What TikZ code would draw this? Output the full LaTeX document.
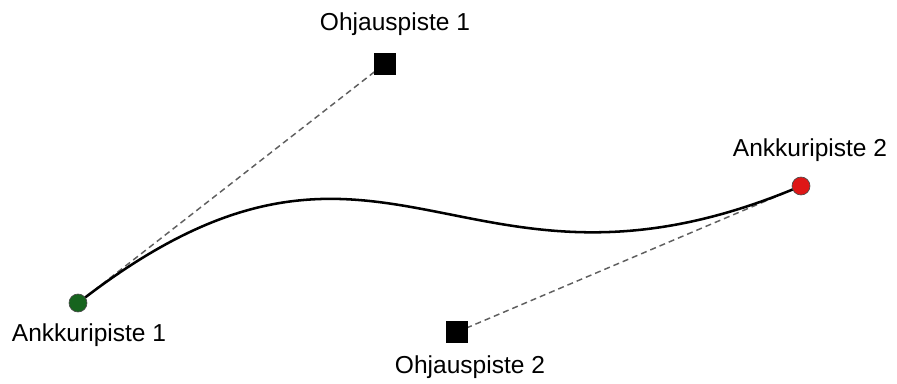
\documentclass[tikz,border=0pt]{standalone}
\usepackage{fontspec}
\setmainfont{Liberation Sans}
\definecolor{anchorgreen}{RGB}{22,100,30}
\definecolor{anchorred}{RGB}{222,22,22}
\definecolor{guidegray}{RGB}{95,95,95}
\begin{document}
\begin{tikzpicture}[x=0.75pt,y=-0.75pt,
  anchorpt/.style={circle,draw=black!70,line width=0.5pt,inner sep=0pt,minimum size=13.5pt},
  ctrlpt/.style={rectangle,fill=black,inner sep=0pt,minimum size=16.5pt},
  guide/.style={draw=guidegray,line width=1.1pt,dash pattern=on 4.5pt off 3pt},
  curve/.style={draw=black,line width=1.9pt},
  lbl/.style={anchor=base,inner sep=0pt,font=\fontsize{18.4pt}{22pt}\selectfont}]
  \useasboundingbox (0,0) rectangle (897,383);
  % points
  \coordinate (p1) at (78,303);
  \coordinate (p2) at (801,186);
  \coordinate (q1) at (384.5,64);
  \coordinate (q2) at (457,332);
  % guide lines and the Bezier curve
  \draw[guide] (p1) -- (q1);
  \draw[guide] (q2) -- (p2);
  \draw[curve] (p1) .. controls (q1) and (q2) .. (p2);
  % handles
  \node[anchorpt,fill=anchorgreen] (a1) at (p1) {};
  \node[anchorpt,fill=anchorred] (a2) at (p2) {};
  \node[ctrlpt] (c1) at (q1) {};
  \node[ctrlpt] (c2) at (q2) {};
  % labels
  \node[lbl] (l1) at (395,30) {Ohjauspiste 1};
  \node[lbl] (l2) at (810,156.5) {Ankkuripiste 2};
  \node[lbl] (l3) at (89,341) {Ankkuripiste 1};
  \node[lbl] (l4) at (470,373) {Ohjauspiste 2};
\end{tikzpicture}
\end{document}
